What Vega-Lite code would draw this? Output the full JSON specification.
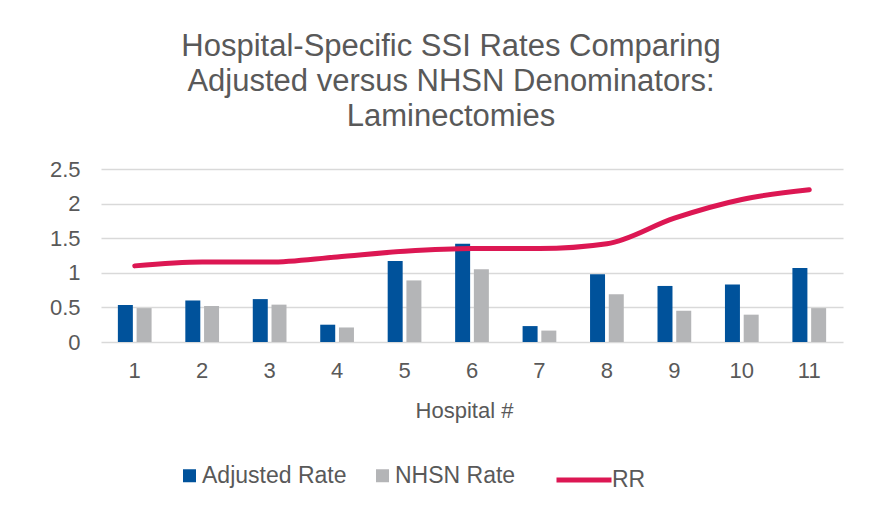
{
  "$schema": "https://vega.github.io/schema/vega-lite/v6.json",
  "width": 742,
  "height": 173,
  "autosize": {"type": "none"},
  "padding": {"left": 101, "top": 169, "right": 34, "bottom": 164},
  "background": "white",
  "config": {
    "font": "Liberation Sans, Arial, Helvetica, sans-serif",
    "view": {"stroke": null},
    "axis": {"labelColor": "#595959", "titleColor": "#595959", "labelFont": "Liberation Sans, Arial, sans-serif", "titleFont": "Liberation Sans, Arial, sans-serif"},
    "legend": {"labelColor": "#595959", "labelFont": "Liberation Sans, Arial, sans-serif", "padding": 0}
  },
  "title": {
    "text": ["Hospital-Specific SSI Rates Comparing", "Adjusted versus NHSN Denominators:", "Laminectomies"],
    "font": "Liberation Sans, Arial, sans-serif",
    "fontSize": 31,
    "fontWeight": "normal",
    "color": "#595959",
    "lineHeight": 35,
    "anchor": "middle",
    "dx": -21,
    "offset": 25
  },
  "datasets": {
    "bars": [
      {"hospital": "1", "series": "Adjusted Rate", "value": 0.535},
      {"hospital": "1", "series": "NHSN Rate", "value": 0.49},
      {"hospital": "2", "series": "Adjusted Rate", "value": 0.60},
      {"hospital": "2", "series": "NHSN Rate", "value": 0.52},
      {"hospital": "3", "series": "Adjusted Rate", "value": 0.62},
      {"hospital": "3", "series": "NHSN Rate", "value": 0.54},
      {"hospital": "4", "series": "Adjusted Rate", "value": 0.25},
      {"hospital": "4", "series": "NHSN Rate", "value": 0.21},
      {"hospital": "5", "series": "Adjusted Rate", "value": 1.17},
      {"hospital": "5", "series": "NHSN Rate", "value": 0.89},
      {"hospital": "6", "series": "Adjusted Rate", "value": 1.42},
      {"hospital": "6", "series": "NHSN Rate", "value": 1.05},
      {"hospital": "7", "series": "Adjusted Rate", "value": 0.23},
      {"hospital": "7", "series": "NHSN Rate", "value": 0.165},
      {"hospital": "8", "series": "Adjusted Rate", "value": 0.98},
      {"hospital": "8", "series": "NHSN Rate", "value": 0.69},
      {"hospital": "9", "series": "Adjusted Rate", "value": 0.81},
      {"hospital": "9", "series": "NHSN Rate", "value": 0.45},
      {"hospital": "10", "series": "Adjusted Rate", "value": 0.83},
      {"hospital": "10", "series": "NHSN Rate", "value": 0.395},
      {"hospital": "11", "series": "Adjusted Rate", "value": 1.07},
      {"hospital": "11", "series": "NHSN Rate", "value": 0.49}
    ],
    "rr": [
      {"hospital": "1", "series": "RR", "value": 1.10},
      {"hospital": "2", "series": "RR", "value": 1.155},
      {"hospital": "3", "series": "RR", "value": 1.155},
      {"hospital": "4", "series": "RR", "value": 1.23},
      {"hospital": "5", "series": "RR", "value": 1.31},
      {"hospital": "6", "series": "RR", "value": 1.35},
      {"hospital": "7", "series": "RR", "value": 1.35},
      {"hospital": "8", "series": "RR", "value": 1.42},
      {"hospital": "9", "series": "RR", "value": 1.79},
      {"hospital": "10", "series": "RR", "value": 2.06},
      {"hospital": "11", "series": "RR", "value": 2.20}
    ]
  },
  "encoding": {
    "x": {
      "field": "hospital",
      "type": "ordinal",
      "sort": ["1","2","3","4","5","6","7","8","9","10","11"],
      "scale": {"paddingInner": 0.5, "paddingOuter": 0.25},
      "axis": {
        "title": "Hospital #",
        "titleFontSize": 22,
        "titleFontWeight": "normal",
        "titlePadding": 19,
        "titleX": 363,
        "labelFontSize": 22,
        "labelAngle": 0,
        "labelPadding": 18,
        "domain": false,
        "ticks": false
      }
    },
    "y": {
      "field": "value",
      "type": "quantitative",
      "scale": {"domain": [0, 2.5], "nice": false},
      "axis": {
        "title": null,
        "values": [0, 0.5, 1, 1.5, 2, 2.5],
        "labelExpr": "datum.value + ''",
        "labelFontSize": 22,
        "labelPadding": 21,
        "domain": false,
        "ticks": false,
        "grid": true,
        "gridColor": "#D9D9D9",
        "gridWidth": 1.5
      }
    }
  },
  "layer": [
    {
      "data": {"name": "bars"},
      "mark": {"type": "bar"},
      "encoding": {
        "xOffset": {"field": "series", "type": "nominal", "scale": {"paddingInner": 0.2, "paddingOuter": 0}},
        "color": {
          "field": "series",
          "type": "nominal",
          "scale": {"domain": ["Adjusted Rate", "NHSN Rate"], "range": ["#00529B", "#B4B5B7"]},
          "legend": {
            "title": null,
            "orient": "none",
            "direction": "horizontal",
            "legendX": 77,
            "legendY": 295,
            "symbolType": "square",
            "symbolSize": 169,
            "symbolStrokeWidth": 0,
            "labelFontSize": 23,
            "labelOffset": 1,
            "columnPadding": 24
          }
        }
      }
    },
    {
      "data": {"name": "rr"},
      "mark": {"type": "line", "interpolate": "monotone", "strokeWidth": 5, "strokeCap": "round"},
      "encoding": {
        "stroke": {
          "field": "series",
          "type": "nominal",
          "scale": {"domain": ["RR"], "range": ["#DC1753"]},
          "legend": {
            "title": null,
            "orient": "none",
            "legendX": 453,
            "legendY": 281,
            "symbolType": "stroke",
            "symbolSize": 3025,
            "symbolStrokeWidth": 5,
            "labelFontSize": 23,
            "labelOffset": -2
          }
        }
      }
    }
  ]
}
